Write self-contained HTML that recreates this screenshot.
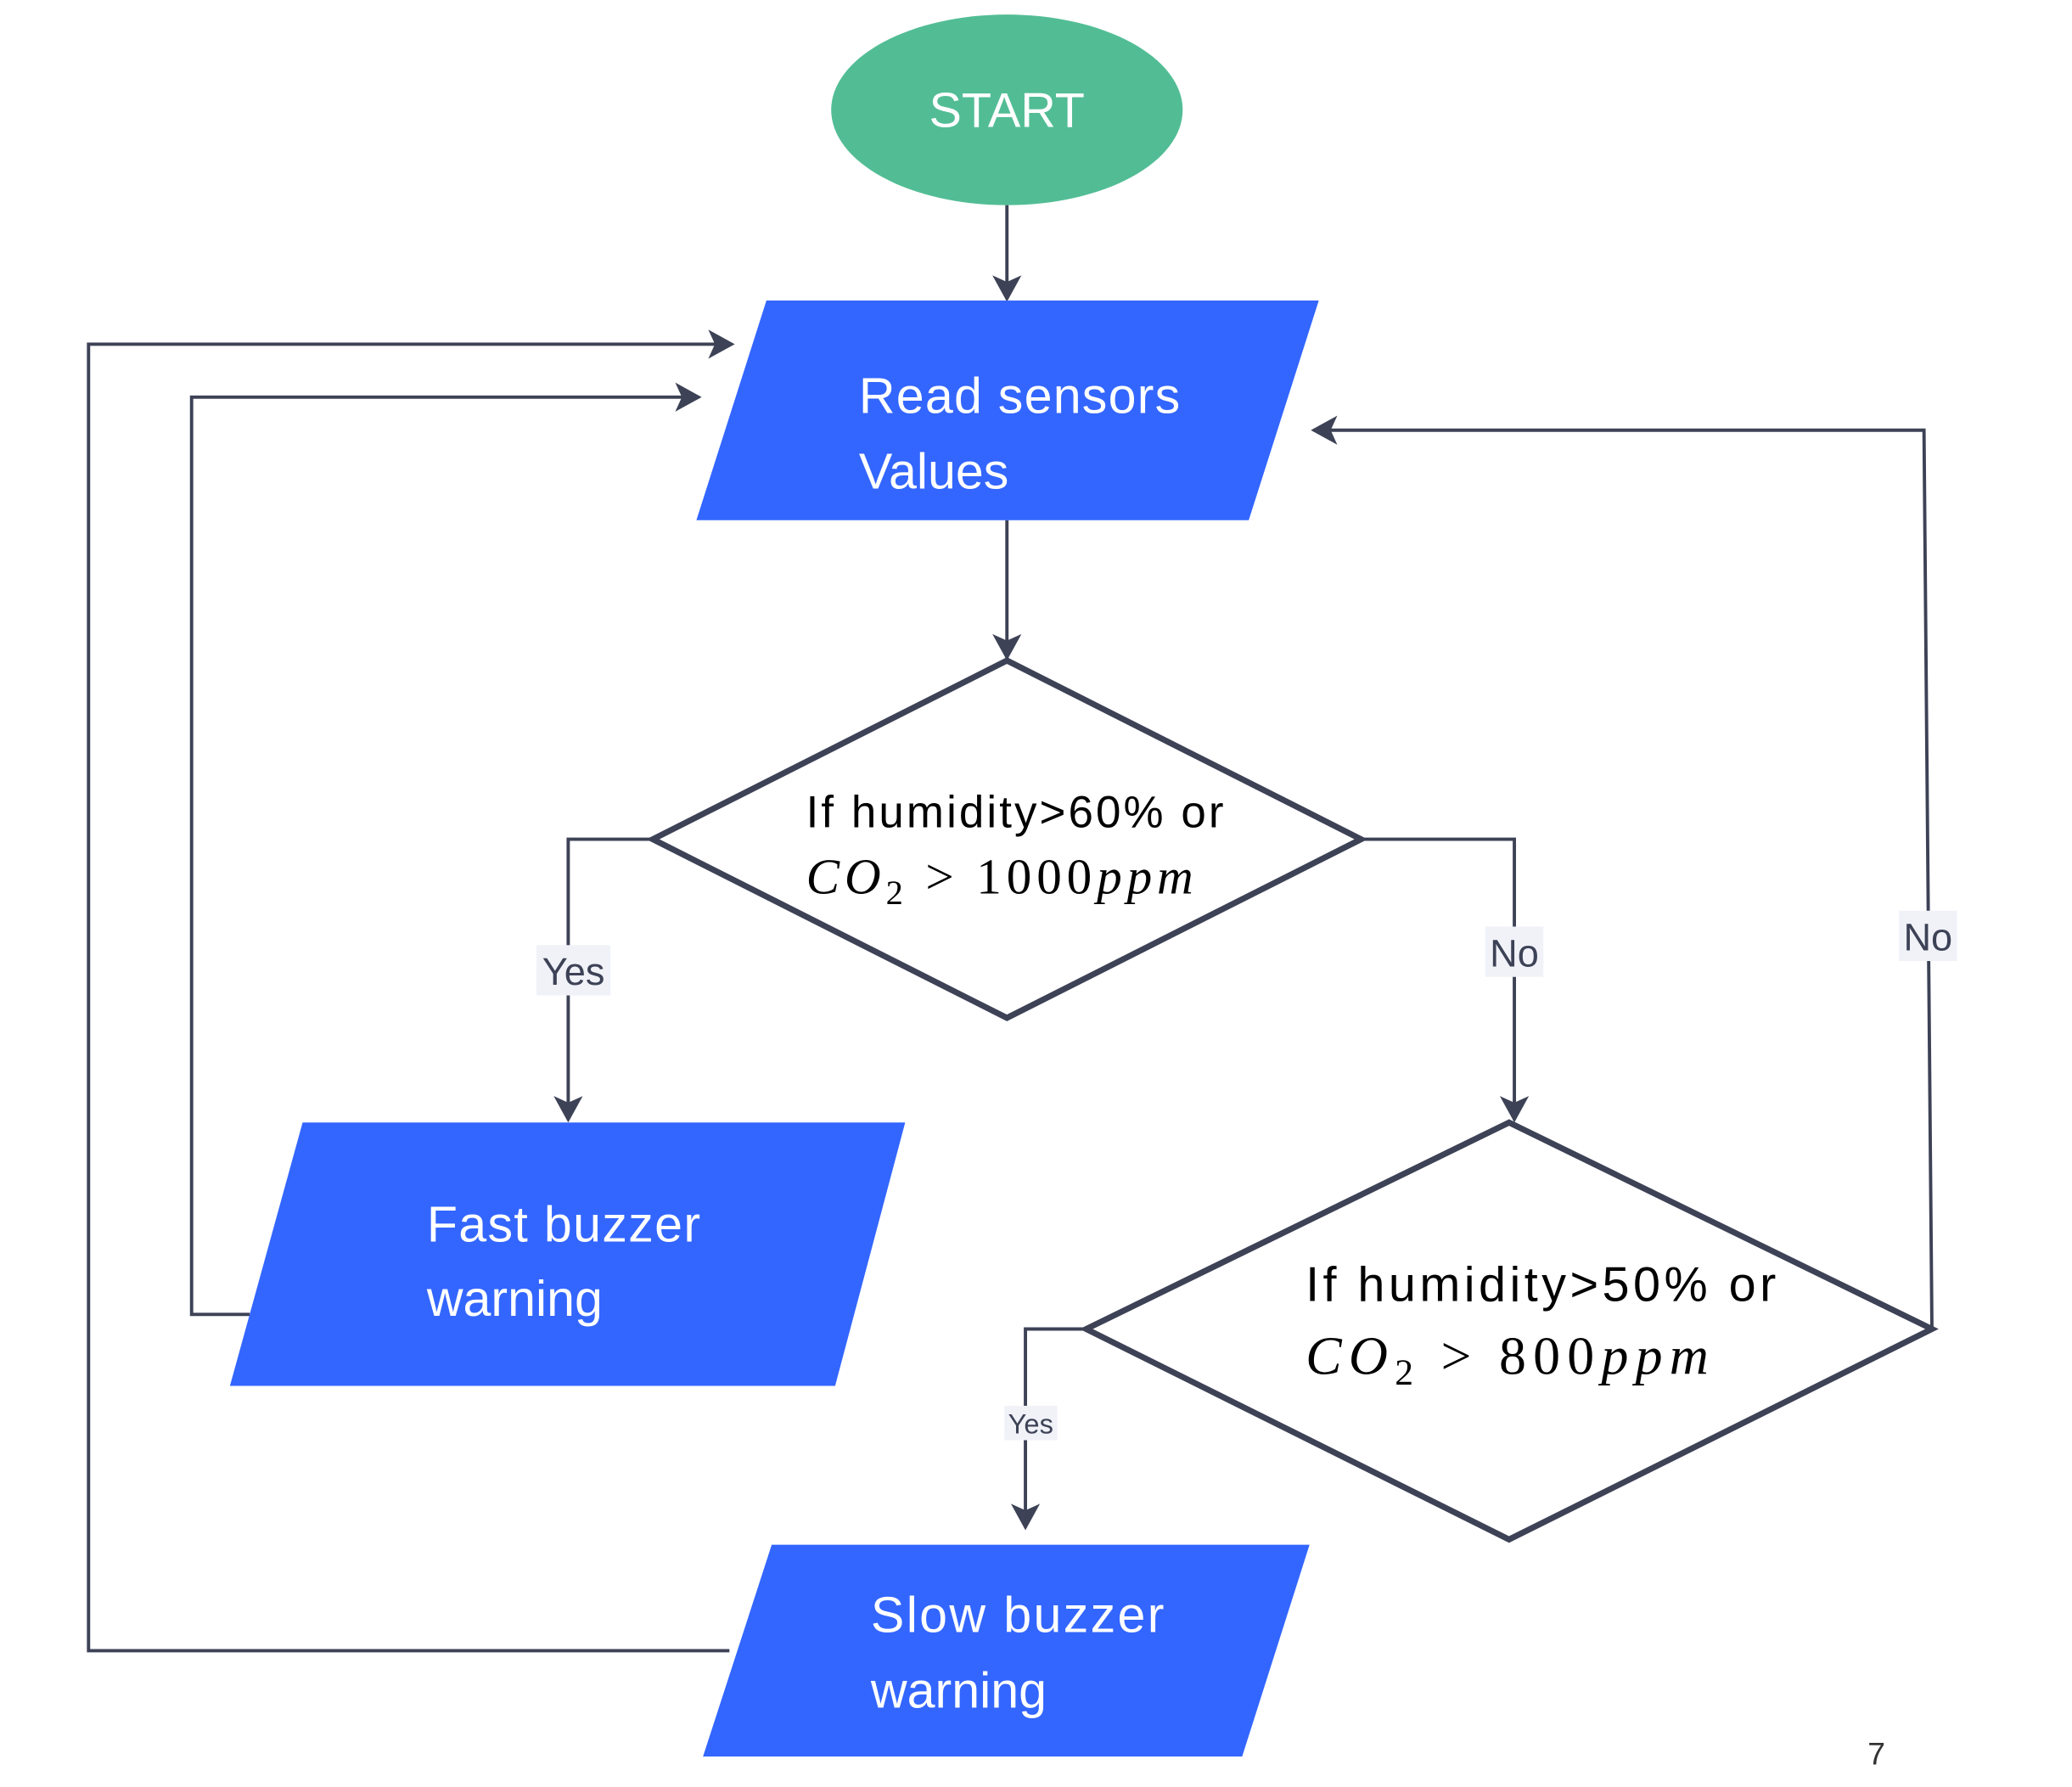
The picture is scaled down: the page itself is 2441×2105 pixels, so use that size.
<!DOCTYPE html>
<html><head><meta charset="utf-8"><style>
html,body{margin:0;padding:0;background:#fff;width:2441px;height:2105px;overflow:hidden}
svg{display:block}
.t{font-family:"Liberation Sans",sans-serif;}
.m{font-family:"Liberation Serif",serif;font-style:italic;}
</style></head><body>
<svg width="2441" height="2105" viewBox="0 0 1568 1350" preserveAspectRatio="none" xmlns="http://www.w3.org/2000/svg">
<defs>
<marker id="a" markerWidth="20" markerHeight="22" refX="18" refY="11" orient="auto" markerUnits="userSpaceOnUse" viewBox="0 0 20 22">
<path d="M0,0 L20,11 L0,22 L5,11 z" fill="#3d4256"/></marker>
</defs>
<g stroke="#3d4256" stroke-width="2.5" fill="none">
<line x1="762" y1="155" x2="762" y2="226" marker-end="url(#a)"/>
<line x1="762" y1="393" x2="762" y2="497" marker-end="url(#a)"/>
<polyline points="494,634 430,634 430,846" marker-end="url(#a)"/>
<polyline points="1030,634 1146,634 1146,846" marker-end="url(#a)"/>
<polyline points="822,1004 776,1004 776,1154" marker-end="url(#a)"/>
<polyline points="1462,1004 1456,325 994,325" marker-end="url(#a)"/>
<polyline points="552,1247 67,1247 67,260 554,260" marker-end="url(#a)"/>
<polyline points="189,993 145,993 145,300 529,300" marker-end="url(#a)"/>
</g>
<ellipse cx="762" cy="83" rx="133" ry="72" fill="#52BD95"/>
<text x="762" y="96" class="t" font-size="37" fill="#fff" text-anchor="middle">START</text>
<polygon points="580,227 998,227 945,393 527,393" fill="#3366FF"/>
<text x="650" y="312" class="t" font-size="38" fill="#fff" textLength="243">Read sensors</text>
<text x="650" y="369" class="t" font-size="38" fill="#fff">Values</text>
<polygon points="762,499 1030,634 762,769 494,634" fill="#fff" stroke="#3d4256" stroke-width="4.5"/>
<text x="610" y="625" class="t" font-size="34" fill="#000" textLength="316">If humidity&gt;60% or</text>
<text x="610" y="675" class="m" font-size="38" fill="#000" textLength="293">CO<tspan font-size="26" dy="8" font-style="normal">2</tspan><tspan dy="-8" font-style="normal"> &gt; 1000</tspan>ppm</text>
<polygon points="1142,848 1462,1004 1142,1163 822,1004" fill="#fff" stroke="#3d4256" stroke-width="4.5"/>
<text x="988" y="983" class="t" font-size="37" fill="#000" textLength="356">If humidity&gt;50% or</text>
<text x="988" y="1038" class="m" font-size="41" fill="#000" textLength="305">CO<tspan font-size="28" dy="8" font-style="normal">2</tspan><tspan dy="-8" font-style="normal"> &gt; 800</tspan>ppm</text>
<polygon points="229,848 685,848 632,1047 174,1047" fill="#3366FF"/>
<text x="323" y="938" class="t" font-size="38" fill="#fff" textLength="207">Fast buzzer</text>
<text x="323" y="994" class="t" font-size="38" fill="#fff">warning</text>
<polygon points="584,1167 991,1167 940,1327 532,1327" fill="#3366FF"/>
<text x="659" y="1233" class="t" font-size="38" fill="#fff" textLength="222">Slow buzzer</text>
<text x="659" y="1290" class="t" font-size="38" fill="#fff">warning</text>
<rect x="406" y="714" width="56" height="38" fill="#f0f2f8"/>
<text x="434" y="744" class="t" font-size="29" fill="#3d4256" text-anchor="middle">Yes</text>
<rect x="1124" y="700" width="44" height="38" fill="#f0f2f8"/>
<text x="1146" y="730" class="t" font-size="29" fill="#3d4256" text-anchor="middle">No</text>
<rect x="1437" y="688" width="44" height="38" fill="#f0f2f8"/>
<text x="1459" y="718" class="t" font-size="29" fill="#3d4256" text-anchor="middle">No</text>
<rect x="760" y="1062" width="40" height="26" fill="#f0f2f8"/>
<text x="780" y="1083" class="t" font-size="21" fill="#3d4256" text-anchor="middle">Yes</text>
<text x="1420" y="1333" class="t" font-size="24" fill="#333" text-anchor="middle">7</text>
</svg>
</body></html>
